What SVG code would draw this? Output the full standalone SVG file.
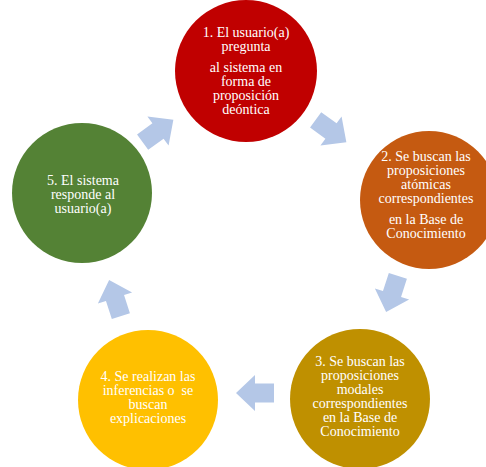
<svg xmlns="http://www.w3.org/2000/svg" width="486" height="467" viewBox="0 0 486 467">
<defs>
<style>
.lbl{font-family:"Liberation Serif","Times New Roman",serif;font-size:14px;fill:#ffffff;text-anchor:middle}
.arr{fill:#B4C7E7}
</style>
<path id="arrowShape" d="M-19,-9.5 L0,-9.5 L0,-18 L19,0 L0,18 L0,9.5 L-19,9.5 Z"/>
</defs>
<rect width="486" height="467" fill="#ffffff"/>
<g id="connectors">
<use href="#arrowShape" class="arr" transform="translate(158,131) rotate(-36)"/>
<use href="#arrowShape" class="arr" transform="translate(331,131) rotate(36)"/>
<use href="#arrowShape" class="arr" transform="translate(392,294) rotate(108)"/>
<use href="#arrowShape" class="arr" transform="translate(255,393) rotate(180)"/>
<use href="#arrowShape" class="arr" transform="translate(115,298) rotate(252)"/>
</g>
<g id="node1">
<circle cx="246" cy="71" r="71" fill="#C00000"/>
<text class="lbl" x="246" y="36.5">1. El usuario(a)</text>
<text class="lbl" x="246" y="50.5">pregunta</text>
<text class="lbl" x="246" y="71.5">al sistema en</text>
<text class="lbl" x="246" y="85.5">forma de</text>
<text class="lbl" x="246" y="99.5">proposición</text>
<text class="lbl" x="246" y="113.5">deóntica</text>
</g>
<g id="node2">
<circle cx="429" cy="200" r="69" fill="#C55A11"/>
<text class="lbl" x="426" y="160.5">2. Se buscan las</text>
<text class="lbl" x="426" y="174.5">proposiciones</text>
<text class="lbl" x="426" y="188.5">atómicas</text>
<text class="lbl" x="426" y="202.5">correspondientes</text>
<text class="lbl" x="426" y="223.5">en la Base de</text>
<text class="lbl" x="426" y="237.5">Conocimiento</text>
</g>
<g id="node3">
<circle cx="360" cy="399" r="70" fill="#BF9000"/>
<text class="lbl" x="360" y="366">3. Se buscan las</text>
<text class="lbl" x="360" y="380">proposiciones</text>
<text class="lbl" x="360" y="394">modales</text>
<text class="lbl" x="360" y="408">correspondientes</text>
<text class="lbl" x="360" y="422">en la Base de</text>
<text class="lbl" x="360" y="436">Conocimiento</text>
</g>
<g id="node4">
<circle cx="148" cy="400" r="70" fill="#FFC000"/>
<text class="lbl" x="148" y="381">4. Se realizan las</text>
<text class="lbl" x="148" y="395" xml:space="preserve">inferencias o  se</text>
<text class="lbl" x="148" y="409">buscan</text>
<text class="lbl" x="148" y="423">explicaciones</text>
</g>
<g id="node5">
<circle cx="82" cy="193" r="70" fill="#548235"/>
<text class="lbl" x="83" y="185">5. El sistema</text>
<text class="lbl" x="83" y="199">responde al</text>
<text class="lbl" x="83" y="213">usuario(a)</text>
</g>
</svg>
